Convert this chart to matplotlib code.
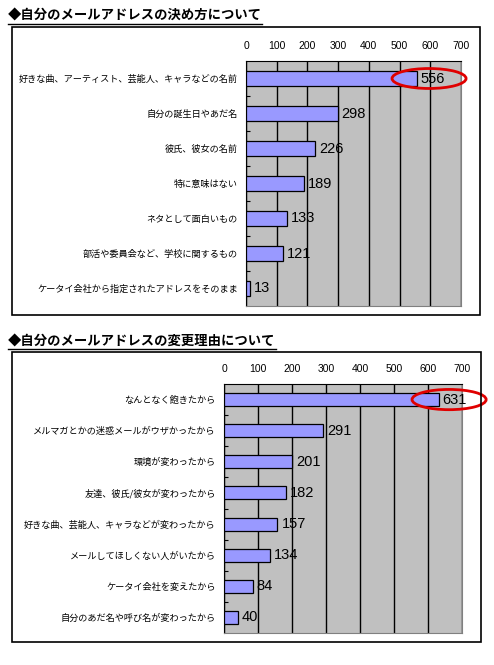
import matplotlib
matplotlib.use("Agg")
import matplotlib.pyplot as plt
import numpy as np
from matplotlib.patches import Ellipse, Rectangle

plt.rcParams['font.family'] = ['Noto Sans CJK JP', 'DejaVu Sans']

W, H = 494, 665

title1 = "◆自分のメールアドレスの決め方について"
cats1 = ["好きな曲、アーティスト、芸能人、キャラなどの名前", "自分の誕生日やあだ名",
         "彼氏、彼女の名前", "特に意味はない", "ネタとして面白いもの",
         "部活や委員会など、学校に関するもの", "ケータイ会社から指定されたアドレスをそのまま"]
vals1 = [556, 298, 226, 189, 133, 121, 13]

title2 = "◆自分のメールアドレスの変更理由について"
cats2 = ["なんとなく飽きたから", "メルマガとかの迷惑メールがウザかったから",
         "環境が変わったから", "友達、彼氏/彼女が変わったから",
         "好きな曲、芸能人、キャラなどが変わったから", "メールしてほしくない人がいたから",
         "ケータイ会社を変えたから", "自分のあだ名や呼び名が変わったから"]
vals2 = [631, 291, 201, 182, 157, 134, 84, 40]

xticks = [0, 100, 200, 300, 400, 500, 600, 700]


def px_box(x0, y0, x1, y1):
    return [x0 / W, 1 - y1 / H, (x1 - x0) / W, (y1 - y0) / H]


def draw_title(fig, text, x, y, underline_y):
    t = fig.text(x / W, 1 - y / H, text, fontsize=9.6, va='center', ha='left',
                 fontweight='bold', color='black')
    fig.canvas.draw()
    bb = t.get_window_extent()
    x0, x1 = bb.x0 / fig.dpi / fig.get_figwidth(), bb.x1 / fig.dpi / fig.get_figwidth()
    fig.add_artist(plt.Line2D([x0, x1], [1 - underline_y / H] * 2, color='black', lw=1))


def draw_chart(fig, box, frame, cats, vals, ring):
    fig.add_artist(Rectangle((frame[0] / W, 1 - frame[3] / H),
                             (frame[2] - frame[0]) / W, (frame[3] - frame[1]) / H,
                             transform=fig.transFigure, fill=False, ec='black', lw=1.2))
    ax = fig.add_axes(px_box(*box))
    n = len(cats)
    y = np.arange(n)
    ax.set_facecolor('#C0C0C0')
    ax.barh(y, vals, height=0.42, color='#9999FF', edgecolor='black', lw=0.9, zorder=3)
    for i, v in enumerate(vals):
        ax.annotate(str(v), (v, i), xytext=(3, 0), textcoords='offset points',
                    va='center', ha='left', fontsize=10.5, family='Liberation Sans', zorder=5)
    ax.set_xlim(0, 700)
    ax.set_ylim(n - 0.5, -0.5)
    ax.set_xticks(xticks)
    ax.xaxis.tick_top()
    ax.tick_params(axis='x', length=0, pad=7, labelsize=7.5)
    for lab in ax.get_xticklabels():
        lab.set_family('Liberation Sans')
    ax.grid(axis='x', color='black', lw=1, zorder=1)
    ax.set_yticks(y)
    ax.set_yticklabels(cats, fontsize=6.6)
    ax.tick_params(axis='y', which='major', length=0, pad=6)
    ax.set_yticks(np.arange(n - 1) + 0.5, minor=True)
    ax.tick_params(axis='y', which='minor', direction='in', length=3, width=0.8)
    ax.spines['left'].set_color('black')
    ax.spines['top'].set_color('black')
    ax.spines['right'].set_color('#808080')
    ax.spines['bottom'].set_color('#808080')
    ex, ew, eh = ring
    ax.add_patch(Ellipse((ex, 0), ew, eh, fill=False, ec='#E00000', lw=2,
                         clip_on=False, zorder=6))
    return ax


fig = plt.figure(figsize=(W / 100, H / 100), dpi=100)
fig.patch.set_facecolor('white')

draw_title(fig, title1, 8, 16, 24)
draw_chart(fig, (246, 61, 461, 306), (12, 27, 480, 315), cats1, vals1, (596, 241, 0.57))

draw_title(fig, title2, 8, 342, 349)
draw_chart(fig, (224, 384, 462, 633), (12, 352, 481, 642), cats2, vals2, (662, 218, 0.65))

fig.savefig("out.png", dpi=100)
